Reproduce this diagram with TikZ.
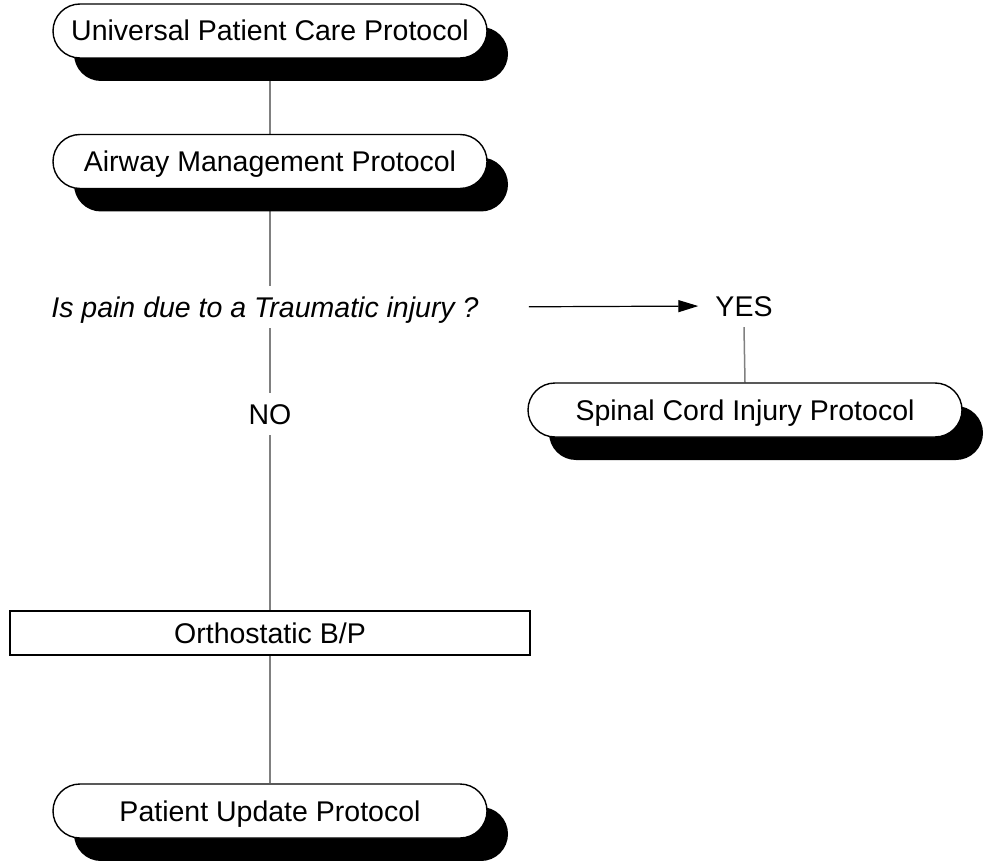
\documentclass[tikz,border=0pt]{standalone}
\usepackage{fontspec}
\setmainfont{Liberation Sans}
\usetikzlibrary{arrows.meta,shadows,backgrounds}
\begin{document}
\begin{tikzpicture}[x=1pt,y=-1pt,
  every node/.style={font=\fontsize{28.5}{32}\selectfont, text height=20pt, text depth=0pt},
  protocol/.style={draw=black, line width=1.4pt, fill=white,
    rounded corners=27pt, minimum width=434pt, minimum height=54pt, inner sep=0pt,
    drop shadow={shadow xshift=21pt, shadow yshift=-23pt, fill=black, opacity=1}},
  stepbox/.style={draw=black, line width=1.4pt, fill=white,
    minimum width=520pt, minimum height=44pt, inner sep=0pt},
  textlabel/.style={inner xsep=2pt, inner ysep=11pt},
  conn/.style={draw=black!50, line width=1.5pt},
  yesarrow/.style={draw=black, line width=1.2pt,
    -{Triangle[length=20pt,width=12pt]}}
]
\useasboundingbox (0,0) rectangle (988,861);

% protocol steps
\node[protocol] (upc) at (270,31) {Universal Patient Care Protocol};
\node[protocol] (amp) at (270,161.5) {Airway Management Protocol};
\node[textlabel, inner xsep=0pt] (q) at (265,307) {\itshape Is pain due to a Traumatic injury ?};
\node[textlabel] (yes) at (744,306) {YES};
\node[textlabel] (no) at (270,414) {NO};
\node[protocol] (scip) at (745,410) {Spinal Cord Injury Protocol};
\node[stepbox] (obp) at (270,633) {Orthostatic B/P};
\node[protocol] (pup) at (270,811) {Patient Update Protocol};

% connectors, kept behind the shadows
\begin{pgfonlayer}{background}
  \draw[conn] (upc.south) -- (amp.north);
  \draw[conn] (amp.south) -- (amp.south |- q.north);
  \draw[conn] (amp.south |- q.south) -- (no.north);
  \draw[conn] (no.south) -- (obp.north);
  \draw[conn] (obp.south) -- (pup.north);
  \draw[conn] (yes.south) -- (scip.north);
\end{pgfonlayer}

\draw[yesarrow, shorten <=50pt, shorten >=15pt] (q.east) -- (yes.west);
\end{tikzpicture}
\end{document}
